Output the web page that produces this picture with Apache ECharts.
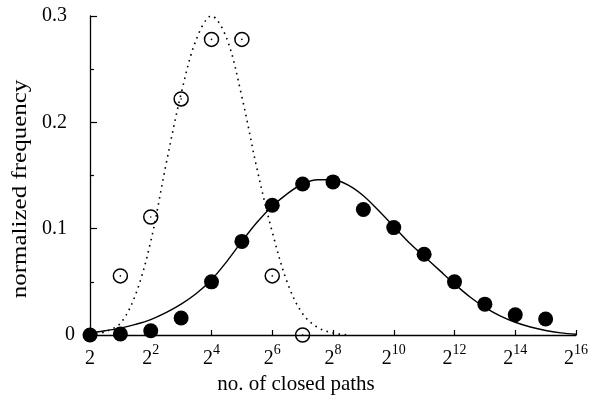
<!DOCTYPE html>
<html>
<head>
<meta charset="utf-8">
<script src="https://cdn.jsdelivr.net/npm/echarts@6/dist/echarts.min.js"></script>
<style>
  html, body { margin: 0; padding: 0; background: #fff; }
  #chart { width: 592px; height: 409px; }
</style>
</head>
<body>
<div id="chart"></div>
<script>
// x values are powers of two (exponent n stands for 2^n); y is normalized frequency
const xTicks = [0, 2, 4, 6, 8, 10, 12, 14, 16];
const yTicks = [0, 0.1, 0.2, 0.3];

// open circles
const openExp  = [1, 2, 3, 4, 5, 6, 7];
const openFreq = [0.0556, 0.111, 0.222, 0.278, 0.278, 0.0556, 0];

// filled circles
const fillExp  = [0, 1, 2, 3, 4, 5, 6, 7, 8, 9, 10, 11, 12, 13, 14, 15];
const fillFreq = [0, 0.001, 0.004, 0.016, 0.050, 0.088, 0.122, 0.142, 0.144,
                  0.118, 0.101, 0.076, 0.050, 0.029, 0.019, 0.015];

// dotted fit through the open circles
const dotFitExp  = [0.2, 0.5, 1.0, 1.5, 2.0, 2.5, 3.0, 3.5, 4.0, 4.5, 5.0, 5.5,
                    6.0, 6.5, 7.0, 7.5, 8.0, 8.5];
const dotFitFreq = [0.001, 0.003, 0.011, 0.038, 0.088, 0.160, 0.227, 0.278, 0.300,
                    0.279, 0.224, 0.156, 0.097, 0.049, 0.020, 0.007, 0.002, 0.0];

// solid fit through the filled circles
const solidFitExp  = [0, 0.5, 1.0, 1.5, 2.0, 2.5, 3.0, 3.5, 4.0, 4.5, 5.0, 5.5,
                      6.0, 6.5, 7.0, 7.5, 8.0, 8.5, 9.0, 9.5, 10.0, 10.5, 11.0,
                      11.5, 12.0, 12.5, 13.0, 13.5, 14.0, 14.5, 15.0, 15.5, 16.0];
const solidFitFreq = [0.002, 0.004, 0.0065, 0.010, 0.0145, 0.021, 0.029, 0.039, 0.052,
                      0.069, 0.088, 0.106, 0.121, 0.133, 0.142, 0.146, 0.146, 0.141,
                      0.131, 0.117, 0.102, 0.087, 0.074, 0.061, 0.048, 0.036, 0.026,
                      0.018, 0.012, 0.0075, 0.0042, 0.002, 0.0007];

const serif = '"Liberation Serif", "DejaVu Serif", serif';
const zip = (xs, ys) => xs.map((x, i) => [x, ys[i]]);

const chart = echarts.init(document.getElementById('chart'), null, { renderer: 'canvas' });

chart.setOption({
  animation: false,
  backgroundColor: '#fff',
  grid: { left: 90, right: 16, top: 16, bottom: 74, containLabel: false },
  xAxis: {
    type: 'value',
    min: xTicks[0],
    max: xTicks[xTicks.length - 1],
    interval: 2,
    splitLine: { show: false },
    axisLine: { lineStyle: { color: '#000', width: 1.3 } },
    axisTick: { inside: true, length: 5, lineStyle: { color: '#000', width: 1.2 } },
    axisLabel: {
      margin: 8,
      color: '#000',
      formatter: v => (v === 0 ? '{b|2}' : '{b|2}{s|' + v + '}'),
      rich: {
        b: { fontFamily: serif, fontSize: 20, color: '#000', lineHeight: 26, verticalAlign: 'bottom' },
        s: { fontFamily: serif, fontSize: 14, color: '#000', lineHeight: 14, verticalAlign: 'top' }
      }
    }
  },
  yAxis: {
    type: 'value',
    min: yTicks[0],
    max: yTicks[yTicks.length - 1],
    interval: 0.1,
    splitLine: { show: false },
    axisLine: { lineStyle: { color: '#000', width: 1.3 } },
    axisTick: { inside: true, length: 7, lineStyle: { color: '#000', width: 1.2 } },
    minorTick: { show: true, splitNumber: 2, length: 4, lineStyle: { color: '#000', width: 1.2 } },
    axisLabel: {
      margin: 15,
      color: '#000',
      formatter: v => (v === 0 ? '{z|0}' : '{n|' + v.toFixed(1) + '}'),
      rich: {
        z: { fontFamily: serif, fontSize: 20, color: '#000' },
        n: { fontFamily: serif, fontSize: 20, color: '#000', padding: [0, 8, 0, 0] }
      }
    }
  },
  graphic: [
    {
      type: 'text',
      left: 'center',
      top: 374,
      style: { text: 'no. of closed paths', font: '21px ' + serif, fill: '#000' }
    },
    {
      type: 'text',
      x: 11,
      y: 189,
      rotation: Math.PI / 2,
      scaleX: 1.25,
      style: {
        text: 'normalized frequency', font: '20px ' + serif, fill: '#000',
        align: 'center', verticalAlign: 'top'
      }
    }
  ],
  series: [
    {
      type: 'line',
      data: zip(dotFitExp, dotFitFreq),
      smooth: 0.35,
      symbol: 'none',
      lineStyle: { color: '#000', width: 1.6, type: [1.6, 4.5] },
      z: 2
    },
    {
      type: 'line',
      data: zip(solidFitExp, solidFitFreq),
      smooth: 0.35,
      symbol: 'none',
      lineStyle: { color: '#000', width: 1.4 },
      z: 2
    },
    {
      type: 'scatter',
      data: zip(openExp, openFreq),
      symbol: 'circle',
      symbolSize: 14,
      itemStyle: { color: 'rgba(0,0,0,0)', borderColor: '#000', borderWidth: 1.5, opacity: 1 },
      z: 3
    },
    {
      type: 'scatter',
      data: zip(openExp, openFreq),
      symbol: 'circle',
      symbolSize: 1.6,
      itemStyle: { color: '#000', opacity: 1 },
      z: 3
    },
    {
      type: 'scatter',
      data: zip(fillExp, fillFreq),
      symbol: 'circle',
      symbolSize: 15,
      itemStyle: { color: '#000', opacity: 1 },
      z: 4
    }
  ]
});
</script>
</body>
</html>
